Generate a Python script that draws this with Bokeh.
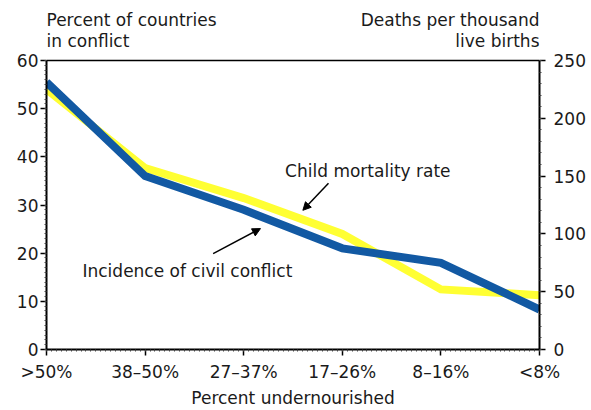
from bokeh.plotting import figure
from bokeh.models import (Range1d, LinearAxis, FixedTicker, SingleIntervalTicker,
                          Label, Arrow, NormalHead, Span)
from bokeh.embed import file_html
from bokeh.resources import INLINE

# ---- data ----
categories = [">50%", "38–50%", "27–37%", "17–26%", "8–16%", "<8%"]
conflict_pct = [55.5, 36, 29, 21, 18, 8.3]          # left axis: percent of countries in conflict
child_mortality = [225, 157, 131, 100, 52, 47]      # right axis: deaths per thousand live births
left_max = 60
right_max = 250

FONT = "DejaVu Sans"
FS = "17px"
TXT = "#1a1a1a"

# frame extends above the axes' top so the header texts fit inside it
Y_TOP = left_max * 349 / 289

xs = list(range(len(categories)))

p = figure(frame_width=493, frame_height=349, x_range=Range1d(0, len(categories) - 1),
           y_range=Range1d(0, Y_TOP), output_backend="svg", toolbar_location=None,
           min_border_left=46, min_border_right=50, min_border_top=0,
           min_border_bottom=50)
p.extra_y_ranges = {"mort": Range1d(0, right_max * Y_TOP / left_max)}

p.grid.visible = False
p.background_fill_color = "white"
p.border_fill_color = "white"
p.outline_line_color = None

def style_axis(ax):
    ax.axis_line_color = "black"
    ax.axis_line_width = 2
    ax.major_tick_line_color = "black"
    ax.major_tick_line_width = 1.5
    ax.major_tick_out = 6
    ax.major_tick_in = 0
    ax.minor_tick_line_color = "#444444"
    ax.minor_tick_line_width = 1
    ax.minor_tick_out = 2
    ax.minor_tick_in = 0
    ax.major_label_text_font = FONT
    ax.major_label_text_font_size = FS
    ax.major_label_text_color = TXT
    ax.axis_label_text_font = FONT
    ax.axis_label_text_font_size = FS
    ax.axis_label_text_font_style = "normal"
    ax.axis_label_text_color = TXT

# x axis
xa = p.xaxis[0]
xa.ticker = FixedTicker(ticks=xs, minor_ticks=[i * 0.05 for i in range(101)])
xa.major_label_overrides = {i: c for i, c in enumerate(categories)}
xa.axis_label = "Percent undernourished"
style_axis(xa)
xa.major_label_standoff = 6
xa.axis_label_standoff = 3

# left axis
ya = p.yaxis[0]
ya.ticker = SingleIntervalTicker(interval=10, num_minor_ticks=10)
ya.bounds = (0, left_max)
style_axis(ya)
ya.major_label_standoff = 2

# right axis
ra = LinearAxis(y_range_name="mort", ticker=SingleIntervalTicker(interval=50, num_minor_ticks=5),
                bounds=(0, right_max))
style_axis(ra)
ra.major_label_standoff = 8
p.add_layout(ra, "right")

# top border line
p.add_layout(Span(location=left_max, dimension="width", line_color="black", line_width=1.5))

# lines
p.line(xs, child_mortality, y_range_name="mort", line_color="#ffff33",
       line_width=8, line_join="miter")
p.line(xs, conflict_pct, line_color="#1259a3", line_width=8, line_join="miter")

# header texts
for txt, y in [("Percent of countries", 68.5), ("in conflict", 64.0)]:
    p.add_layout(Label(x=0, y=y, text=txt, text_font=FONT, text_font_size=FS,
                       text_color=TXT, text_align="left", text_baseline="alphabetic"))
for txt, y in [("Deaths per thousand", 68.5), ("live births", 64.0)]:
    p.add_layout(Label(x=5, y=y, text=txt, text_font=FONT, text_font_size=FS,
                       text_color=TXT, text_align="right", text_baseline="alphabetic"))

# series annotations
p.add_layout(Label(x=2.42, y=37.15, text="Child mortality rate", text_font=FONT,
                   text_font_size=FS, text_color=TXT, text_baseline="alphabetic"))
p.add_layout(Label(x=0.365, y=16.35, text="Incidence of civil conflict", text_font=FONT,
                   text_font_size=FS, text_color=TXT, text_baseline="alphabetic"))

p.add_layout(Arrow(end=NormalHead(size=8, fill_color="black", line_color="black"),
                   x_start=2.86, y_start=34.5, x_end=2.60, y_end=28.9,
                   line_width=1.5, line_color="black"))
p.add_layout(Arrow(end=NormalHead(size=8, fill_color="black", line_color="black"),
                   x_start=1.69, y_start=19.9, x_end=2.17, y_end=25.1,
                   line_width=1.5, line_color="black"))

open("out.html", "w").write(file_html(p, INLINE))
